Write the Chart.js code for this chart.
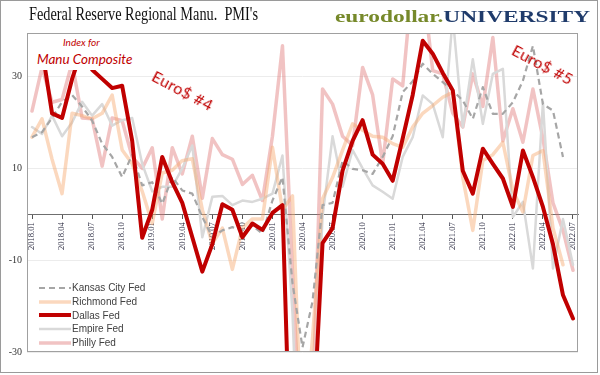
<!DOCTYPE html>
<html>
<head>
<meta charset="utf-8">
<script src="https://cdn.jsdelivr.net/npm/chart.js@4.4.1/dist/chart.umd.min.js"></script>
<style>
  html, body { margin: 0; padding: 0; background: #fff; }
  #wrap { position: relative; width: 600px; height: 375px; overflow: hidden; }
  #chart { position: absolute; left: 0; top: 0; z-index: 0; }
  #frame { position: absolute; left: 0; top: 0; width: 596px; height: 371px; border: 1px solid #9a9a9a; z-index: 3; pointer-events: none; }
  #title { position: absolute; z-index: 2; left: 29px; top: 4px; font: 18px "Liberation Serif", serif; color: #111; white-space: nowrap; transform-origin: 0 0; }
  #logo { position: absolute; z-index: 2; left: 335px; top: 8px; font: bold 16px "Liberation Serif", serif; white-space: nowrap; transform-origin: 0 0; }
  #logo .olive { color: #76892a; }
  #logo .navy { color: #1f3b6b; }
  #note { position: absolute; z-index: 2; left: 29px; top: 34px; width: 104px; height: 36px; background: #fff; color: #c00000; font-family: Lato, sans-serif; font-style: italic; white-space: nowrap; }
  #note .n1 { position: absolute; left: 34px; top: 2px; font-size: 10px; }
  #note .n2 { position: absolute; left: 8px; top: 17px; font-size: 13.5px; }
  .euro { position: absolute; z-index: 2; color: #c00000; font: 16px Lato, sans-serif; letter-spacing: 0.3px; white-space: nowrap; transform: translate(-50%, -50%) rotate(28deg); }
  #legend { position: absolute; z-index: 2; left: 38px; top: 281px; font: 10px "Liberation Sans", Arial, sans-serif; color: #404040; }
  #legend .item { height: 13.7px; display: flex; align-items: center; }
  #legend svg { width: 34px; height: 8px; margin-right: 0; }
</style>
</head>
<body>
<div id="wrap">
  <canvas id="chart" width="600" height="375"></canvas>
  <div id="note"><div class="n1">Index for</div><div class="n2">Manu Composite</div></div>
  <div class="euro" style="left:183px; top:90px;">Euro$ #4</div>
  <div class="euro" style="left:543px; top:64px;">Euro$ #5</div>
  <div id="title">Federal Reserve Regional Manu.&nbsp; PMI's</div>
  <div id="logo"><span class="olive">eurodollar.</span><span class="navy">UNIVERSITY</span></div>
  <div id="legend"></div>
  <div id="frame"></div>
</div>
<script>
// 月份标签
const months = [
  '2018.01','2018.02','2018.03','2018.04','2018.05','2018.06','2018.07','2018.08','2018.09','2018.10','2018.11','2018.12',
  '2019.01','2019.02','2019.03','2019.04','2019.05','2019.06','2019.07','2019.08','2019.09','2019.10','2019.11','2019.12',
  '2020.01','2020.02','2020.03','2020.04','2020.05','2020.06','2020.07','2020.08','2020.09','2020.10','2020.11','2020.12',
  '2021.01','2021.02','2021.03','2021.04','2021.05','2021.06','2021.07','2021.08','2021.09','2021.10','2021.11','2021.12',
  '2022.01','2022.02','2022.03','2022.04','2022.05','2022.06','2022.07'
];

// 各地区联储制造业指数
const kansasCity = [
  16.8, 17.9, 21, 24.5, 26, 23.5, 20.4, 15.4, 12.5, 8.1, 13, 6.3,
  7, 2.3, 8.1, 5.2, 4.5, -0.6, -5, -3.5, -2.8, -3.5, -2.5, -4.2,
  3, 8.1, -15, -29, -19, 2, 2.5, 11.7, 9.9, 9.6, 8.8, 12.5,
  17, 26.6, 29, 32.8, 30.6, 28.8, 27, 24.8, 20.8, 27.7, 21.9, 21.9,
  24.4, 29.1, 36.7, 24, 22.6, 12.5, null
];
const richmond = [
  16.8, 20.8, 12, 4.5, 22, 21.5, 20.8, 22, 26, 14, 11, 5,
  -2, 9, 9.6, 11.7, 12.1, 1, -6.4, -3, -12, -3, -1, -1,
  14.6, 1, 4, -53, -27, 3.4, 8, 14, 19.7, 18.3, 17, 16.8,
  15.4, 14.6, 19, 22, 23.7, 25.5, 26.6, 8, -3.5, 11.7, 13, 15.7,
  5.2, 0.5, 12.8, 13.9, -3, -11, null
];
const dallas = [
  34, 36, 22, 21, 29.5, 36, 31.5, 29.5, 27.5, 28, 16, -5.1,
  1, 12.5, 7, 2.5, -5, -12.5, -6.5, 2.2, 1, -5, -2, -3.4,
  0.3, 2, -70, -74, -49, -6.3, -3, 9.5, 16, 20.5, 13, 11,
  7.3, 16.5, 26, 37.8, 35, 30.8, 27, 9.5, 4.5, 14.3, 11, 7.8,
  1.6, 13.9, 8.1, 1.6, -6.5, -17.6, -22.7
];
const empire = [
  19, 17.5, 21.5, 17, 20, 24.5, 21.5, 24, 19.3, 20.5, 21, 11,
  5, 6, 6, 10, 15, -5, 3.8, 4, 2, 3, 2.7, 3.4,
  4.5, 12.8, -21.5, -78, -48.5, -0.5, 17, 6, 14, 10, 6.3, 4.9,
  3.4, 12.5, 16.8, 25.9, 24, 16.8, 43, 19, 33.8, 19.7, 30.6, 31.7,
  -0.6, 2.7, -11.8, 24.4, -11.8, -1, -11
];
const philly = [
  22.5, 32, 24.4, 25, 33, 21, 20.8, 10.5, 21, 20.4, 12.5, 10,
  14.5, -1, 14.5, 8.8, 17, 3.5, 16.5, 13, 12, 6.5, 8.5, 3,
  17, 36.7, -12.7, -56.6, -43, 27.3, 24, 17, 15, 32, 26, 11,
  29.5, 28, 51.8, 50.2, 31.3, 30.6, 22, 19, 30.6, 23.5, 38.5, 16,
  23, 15.7, 27.3, 16.5, 2.5, -3.5, -12.2
];

const yTicks = [-30, -10, 10, 30];

// 图例顺序
const seriesList = [
  { label: 'Kansas City Fed', data: kansasCity, color: '#a6a6a6', width: 2.2, dash: [6, 4], order: 1 },
  { label: 'Richmond Fed', data: richmond, color: 'rgba(246,168,110,0.45)', width: 3.5, dash: [], order: 2 },
  { label: 'Dallas Fed', data: dallas, color: '#c00000', width: 4, dash: [], order: 0 },
  { label: 'Empire Fed', data: empire, color: '#d9d9d9', width: 2.5, dash: [], order: 3 },
  { label: 'Philly Fed', data: philly, color: 'rgba(222,112,112,0.42)', width: 3.5, dash: [], order: 4 }
];

// 绘图区边框
const plotBorder = {
  id: 'plotBorder',
  afterDraw(chart) {
    const { ctx, chartArea: a } = chart;
    ctx.save();
    ctx.strokeStyle = '#a0a0a0';
    ctx.lineWidth = 1;
    ctx.strokeRect(a.left + 0.5, a.top + 0.5, a.right - a.left - 1, a.bottom - a.top - 1);
    ctx.restore();
  }
};

const ctx = document.getElementById('chart').getContext('2d');
new Chart(ctx, {
  type: 'line',
  data: {
    labels: months,
    datasets: seriesList.map(s => ({
      label: s.label,
      data: s.data,
      borderColor: s.color,
      borderWidth: s.width,
      borderDash: s.dash,
      order: s.order,
      clip: 0,
      pointRadius: 0,
      tension: 0,
      borderJoinStyle: 'round',
      borderCapStyle: s.dash.length ? 'butt' : 'round',
      spanGaps: false
    }))
  },
  options: {
    responsive: false,
    animation: false,
    layout: { padding: { top: 33, right: 22, bottom: 23, left: 0 } },
    plugins: { legend: { display: false }, tooltip: { enabled: false } },
    scales: {
      x: {
        position: { y: 0 },
        offset: true,
        grid: {
          drawOnChartArea: false,
          tickLength: 4,
          color: (c) => (c.index % 3 === 0 ? '#555' : 'rgba(0,0,0,0)')
        },
        border: { color: '#6f6f6f', width: 1 },
        ticks: {
          autoSkip: false,
          minRotation: 90,
          maxRotation: 90,
          padding: 4,
          color: '#2a2a40',
          font: { family: 'Liberation Serif', size: 8.5 },
          callback: (v, i) => (i % 3 === 0 ? months[i] : '')
        }
      },
      y: {
        min: -30,
        max: 39.5,
        afterBuildTicks: (s) => { s.ticks = yTicks.map(v => ({ value: v })); },
        afterFit: (s) => { s.width = 27; },
        grid: { color: '#ececec', drawTicks: false },
        border: { display: false },
        ticks: {
          padding: 5,
          color: '#333',
          font: { family: 'Liberation Serif', size: 10 }
        }
      }
    }
  },
  plugins: [plotBorder]
});

// 图例
const legend = document.getElementById('legend');
seriesList.forEach(s => {
  const item = document.createElement('div');
  item.className = 'item';
  const dash = s.dash.length ? `stroke-dasharray="${s.dash.join(',')}"` : '';
  item.innerHTML = `<svg viewBox="0 0 34 8"><line x1="1" y1="4" x2="33" y2="4" stroke="${s.color}" stroke-width="${s.width}" ${dash}/></svg><span>${s.label}</span>`;
  legend.appendChild(item);
});

// 标题宽度调整
function fitWidth(id, target) {
  const el = document.getElementById(id);
  const w = el.getBoundingClientRect().width;
  el.style.transform = `scaleX(${target / w})`;
}
fitWidth('title', 229);
fitWidth('logo', 255);
</script>
</body>
</html>
